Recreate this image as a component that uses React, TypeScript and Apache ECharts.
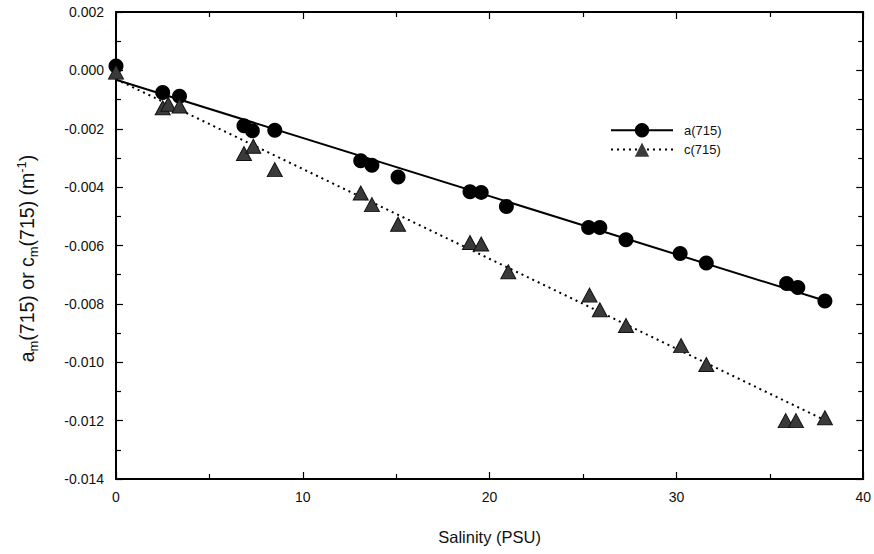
import React, { useEffect, useRef } from 'react';
import * as echarts from 'echarts';

const salinityA = [0, 2.5, 3.4, 6.85, 7.3, 8.5, 13.1, 13.7, 15.1, 18.95, 19.55, 20.9, 25.3, 25.9, 27.3, 30.2, 31.6, 35.9, 36.5, 37.95];
const absorptionA = [0.00015, -0.00076, -0.00089, -0.0019, -0.00207, -0.00205, -0.0031, -0.00325, -0.00365, -0.00416, -0.00418, -0.00466, -0.00538, -0.00538, -0.0058, -0.00627, -0.0066, -0.0073, -0.00744, -0.0079];

const salinityC = [0, 2.5, 2.8, 3.4, 6.85, 7.35, 8.5, 13.1, 13.7, 15.1, 18.95, 19.55, 21.0, 25.35, 25.9, 27.3, 30.25, 31.6, 35.85, 36.4, 37.95];
const attenuationC = [-0.00006, -0.00128, -0.00116, -0.00122, -0.00285, -0.0026, -0.0034, -0.0042, -0.0046, -0.00527, -0.0059, -0.00595, -0.0069, -0.0077, -0.0082, -0.00874, -0.00943, -0.01008, -0.012, -0.012, -0.0119];

const fitSalinity = [0, 38];
const fitA = [-0.00032, -0.0079];
const fitC = [-0.0003, -0.012];

const xTicks = { min: 0, max: 40, interval: 10 };
const yTicks = { min: -0.014, max: 0.002, interval: 0.002 };

const zip = (xs: number[], ys: number[]) => xs.map((x, i) => [x, ys[i]]);

const FONT = 'Liberation Sans, Arial, Helvetica, sans-serif';

export default function App() {
  const ref = useRef<HTMLDivElement>(null);
  useEffect(() => {
    document.body.style.margin = '0';
    if (!ref.current) return;
    const chart = echarts.init(ref.current, null, { renderer: 'svg' });
    const axisLine = { show: true, onZero: false, lineStyle: { color: '#000', width: 2 } };
    const tick = { show: true, inside: true, length: 7, lineStyle: { color: '#000', width: 1.2 } };
    const minorTick = { show: true, splitNumber: 2, length: 5, lineStyle: { color: '#000', width: 1.2 } };
    chart.setOption({
      animation: false,
      backgroundColor: '#fff',
      grid: { left: 116, right: 10, top: 12, bottom: 75, containLabel: false },
      legend: {
        data: ['a(715)', 'c(715)'],
        orient: 'vertical',
        left: 605,
        top: 118,
        itemWidth: 62,
        itemHeight: 18,
        itemGap: 5,
        textStyle: { fontFamily: FONT, fontSize: 13, color: '#111', padding: [0, 0, 0, 6] },
      },
      xAxis: [
        {
          type: 'value',
          position: 'bottom',
          ...xTicks,
          name: 'Salinity (PSU)',
          nameLocation: 'middle',
          nameGap: 49,
          nameTextStyle: { fontFamily: FONT, fontSize: 16.5, color: '#111' },
          axisLine,
          axisTick: tick,
          minorTick,
          splitLine: { show: false },
          axisLabel: { fontFamily: FONT, fontSize: 14, color: '#111', margin: 11 },
        },
        {
          type: 'value',
          position: 'top',
          ...xTicks,
          axisLine,
          axisTick: tick,
          minorTick,
          splitLine: { show: false },
          axisLabel: { show: false },
        },
      ],
      yAxis: [
        {
          type: 'value',
          position: 'left',
          ...yTicks,
          name: 'a{sub|m}(715) or c{sub|m}(715) (m{sup|-1})',
          nameLocation: 'middle',
          nameGap: 76,
          nameRotate: 90,
          nameTextStyle: {
            fontFamily: FONT,
            fontSize: 19.5,
            color: '#111',
            padding: [0, 26, 0, 0],
            rich: {
              sub: { fontFamily: FONT, fontSize: 13, color: '#111', padding: [13, 0, 0, 0] },
              sup: { fontFamily: FONT, fontSize: 13, color: '#111', padding: [0, 0, 11, 0] },
            },
          },
          axisLine,
          axisTick: tick,
          minorTick,
          splitLine: { show: false },
          axisLabel: {
            fontFamily: FONT,
            fontSize: 14,
            color: '#111',
            margin: 12,
            formatter: (v: number) => (Math.abs(v) < 1e-9 ? '0.000' : v.toFixed(3)),
          },
        },
        {
          type: 'value',
          position: 'right',
          ...yTicks,
          axisLine,
          axisTick: tick,
          minorTick,
          splitLine: { show: false },
          axisLabel: { show: false },
        },
      ],
      series: [
        {
          name: 'a(715)',
          type: 'line',
          data: zip(fitSalinity, fitA),
          symbol: 'circle',
          symbolSize: 15,
          showSymbol: false,
          itemStyle: { color: '#000' },
          lineStyle: { color: '#000', width: 2, type: 'solid' },
          z: 2,
        },
        {
          name: 'c(715)',
          type: 'line',
          data: zip(fitSalinity, fitC),
          symbol: 'triangle',
          symbolSize: 15,
          showSymbol: false,
          itemStyle: { color: '#3a3a3a' },
          lineStyle: { color: '#000', width: 2, type: [2, 4] },
          z: 2,
        },
        {
          name: 'a points',
          type: 'scatter',
          data: zip(salinityA, absorptionA),
          symbol: 'circle',
          symbolSize: 15,
          itemStyle: { color: '#000', opacity: 1 },
          z: 3,
        },
        {
          name: 'c points',
          type: 'scatter',
          data: zip(salinityC, attenuationC),
          symbol: 'triangle',
          symbolSize: [15, 14],
          itemStyle: { color: '#3a3a3a', borderColor: '#111', borderWidth: 1, opacity: 1 },
          z: 3,
        },
      ],
    });
    return () => chart.dispose();
  }, []);
  return <div ref={ref} style={{ width: 874, height: 554 }} />;
}
